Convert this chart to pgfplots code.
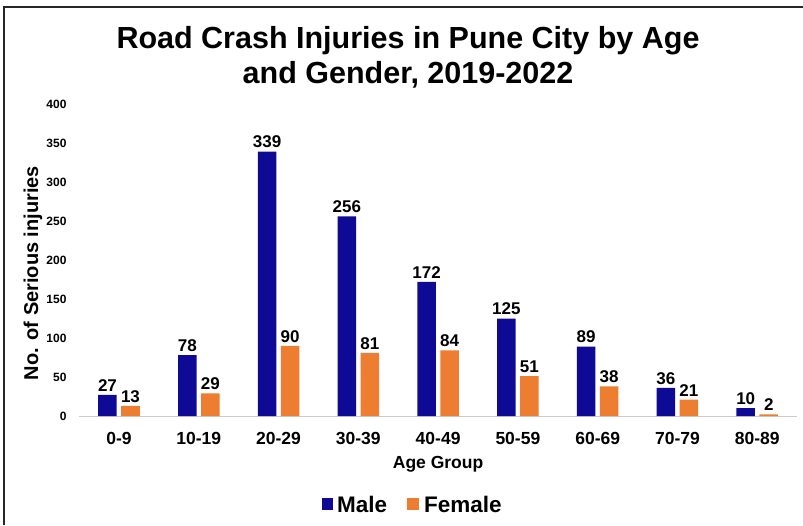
\documentclass[border=0pt]{standalone}
\usepackage{pgfplots}
\pgfplotsset{compat=1.18}
\usepackage{fontspec}
\setmainfont{Liberation Sans}
\definecolor{male}{RGB}{14,10,150}
\definecolor{female}{RGB}{237,125,49}
\begin{document}
\begin{tikzpicture}[x=1pt,y=1pt]
\begin{axis}[
  name=ax,
  scale only axis, width=718pt, height=312pt,
  xmin=-0.5, xmax=8.5, ymin=0, ymax=400,
  ybar, bar width=18.5pt,
  axis x line*=bottom, axis y line=none,
  x axis line style={black!20, line width=0.8pt, -},
  xtick={0,...,8},
  xticklabels={0-9,10-19,20-29,30-39,40-49,50-59,60-69,70-79,80-89},
  xticklabel style={font=\fontsize{17.5}{20}\selectfont\bfseries, yshift=-13pt},
  major tick length=0pt,
  xlabel={Age Group},
  xlabel style={font=\fontsize{17.5}{20}\selectfont\bfseries, yshift=-4pt},
  /pgf/number format/assume math mode=true,
  nodes near coords,
  every node near coord/.append style={font=\fontsize{17}{19}\selectfont\bfseries, text=black},
  clip=false,
]
\addplot[fill=male, draw=none, bar shift=-11.5pt] coordinates {(0,27) (1,78) (2,339) (3,256) (4,172) (5,125) (6,89) (7,36) (8,10)};
\addplot[fill=female, draw=none, bar shift=11.5pt] coordinates {(0,13) (1,29) (2,90) (3,81) (4,84) (5,51) (6,38) (7,21) (8,2)};
\end{axis}
\begin{scope}[shift={(ax.origin)}]
\draw[line width=1.2pt, black!85] (-115,-109) -- (-115,409) -- (684,409);
\node[font=\fontsize{30.5}{35}\selectfont\bfseries, align=center] at (289,359) {Road Crash Injuries in Pune City by Age\\and Gender, 2019-2022};
\foreach \v in {0,50,...,400} {
  \node[anchor=east, font=\fontsize{12}{13}\selectfont\bfseries] at (-49,{\v*0.78}) {\v};
}
\node[rotate=90, font=\fontsize{20}{22}\selectfont\bfseries] at (-86,143) {No. of Serious injuries};
\fill[male] (203,-94) rectangle (214,-82);
\node[anchor=base west, inner sep=0pt, font=\fontsize{22.5}{25}\selectfont\bfseries] at (218,-96) {Male};
\fill[female] (288,-94) rectangle (300,-82);
\node[anchor=base west, inner sep=0pt, font=\fontsize{22.5}{25}\selectfont\bfseries] at (305,-96) {Female};
\pgfresetboundingbox
\path[use as bounding box] (-119,-109) rectangle (684,416);
\end{scope}
\end{tikzpicture}
\end{document}
